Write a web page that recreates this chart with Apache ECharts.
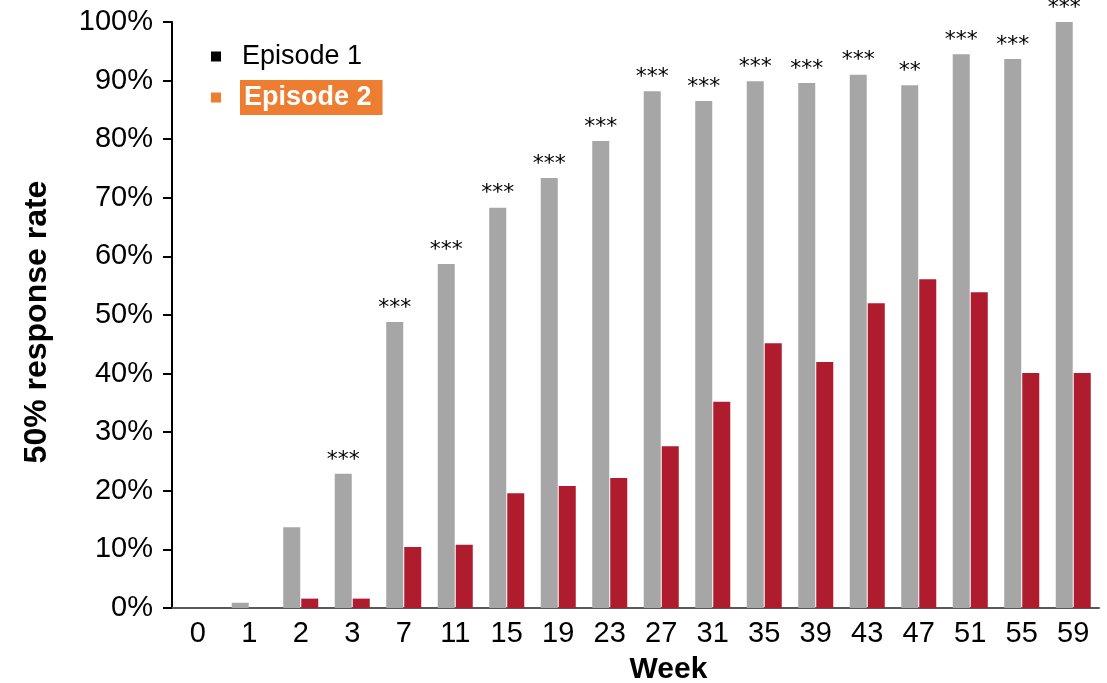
<!DOCTYPE html>
<html>
<head>
<meta charset="utf-8">
<style>
  html, body { margin: 0; padding: 0; background: #fff; }
  #chart { width: 1107px; height: 683px; }
</style>
<script src="https://cdn.jsdelivr.net/npm/echarts@6/dist/echarts.min.js"></script>
</head>
<body>
<div id="chart"></div>
<script>
// Weeks on the x axis
const weeks = ["0", "1", "2", "3", "7", "11", "15", "19", "23", "27", "31", "35", "39", "43", "47", "51", "55", "59"];

// 50% response rate (%) per episode
const episode1 = [0, 0.9, 13.8, 22.9, 48.8, 58.7, 68.3, 73.4, 79.7, 88.2, 86.5, 89.9, 89.6, 91.0, 89.2, 94.5, 93.7, 100];
const episode2 = [0, 0, 1.6, 1.6, 10.4, 10.8, 19.6, 20.8, 22.2, 27.6, 35.2, 45.2, 42.0, 52.0, 56.1, 53.9, 40.1, 40.1];

// significance markers over episode 1 bars
const stars = ["", "", "", "***", "***", "***", "***", "***", "***", "***", "***", "***", "***", "***", "**", "***", "***", "***"];

const FONT = "Liberation Sans";

const chart = echarts.init(document.getElementById("chart"));

chart.setOption({
  animation: false,
  textStyle: { fontFamily: FONT },
  grid: { left: 172, right: 8, top: 22, bottom: 75, outerBoundsMode: "none" },
  legend: {
    orient: "vertical",
    left: 206,
    top: 38,
    itemWidth: 10,
    itemHeight: 10,
    itemGap: 10,
    icon: "rect",
    selectedMode: false,
    formatter: (name) => name === "Episode 2" ? `{b|${name}}` : `{a|${name}}`,
    textStyle: {
      padding: [0, 0, 0, 14],
      rich: {
        a: { fontSize: 27, color: "#000", fontFamily: FONT, padding: [0, 0, 0, 2] },
        b: {
          fontSize: 27, color: "#fff", fontWeight: "bold", fontFamily: FONT,
          backgroundColor: "#ED7D31", padding: [4, 11, 4, 4]
        }
      }
    },
    data: [
      { name: "Episode 1", itemStyle: { color: "#000" } },
      { name: "Episode 2", itemStyle: { color: "#ED7D31" } }
    ]
  },
  xAxis: {
    type: "category",
    data: weeks,
    name: "Week",
    nameLocation: "middle",
    nameGap: 47,
    nameTextStyle: {
      fontSize: 30, fontWeight: "bold", color: "#000", fontFamily: FONT,
      padding: [0, 0, 0, 66]
    },
    axisLine: { lineStyle: { color: "#595959", width: 2 } },
    axisTick: { show: false },
    axisLabel: { fontSize: 29, color: "#000", margin: 11, fontFamily: FONT }
  },
  yAxis: {
    type: "value",
    min: 0,
    max: 100,
    interval: 10,
    name: "50% response rate",
    nameLocation: "middle",
    nameGap: 119,
    nameTextStyle: {
      fontSize: 32, fontWeight: "bold", color: "#000", fontFamily: FONT,
      padding: [0, 14, 0, 0]
    },
    axisLine: { show: true, lineStyle: { color: "#000", width: 2 } },
    axisTick: { show: true, length: 9, lineStyle: { color: "#000", width: 2 } },
    splitLine: { show: false },
    axisLabel: {
      fontSize: 29, color: "#000", margin: 19, fontFamily: FONT,
      formatter: (v) => `${v}%`
    }
  },
  series: [
    {
      name: "Episode 1",
      type: "bar",
      data: episode1,
      barWidth: 17,
      barGap: "6%",
      itemStyle: { color: "#A6A6A6" },
      label: {
        show: true,
        position: "top",
        distance: 3,
        fontSize: 22,
        color: "#000",
        fontFamily: "DejaVu Sans",
        formatter: (p) => stars[p.dataIndex]
      }
    },
    {
      name: "Episode 2",
      type: "bar",
      data: episode2,
      barWidth: 17,
      barGap: "6%",
      itemStyle: { color: "#AE1C2E" }
    }
  ]
});
</script>
</body>
</html>
